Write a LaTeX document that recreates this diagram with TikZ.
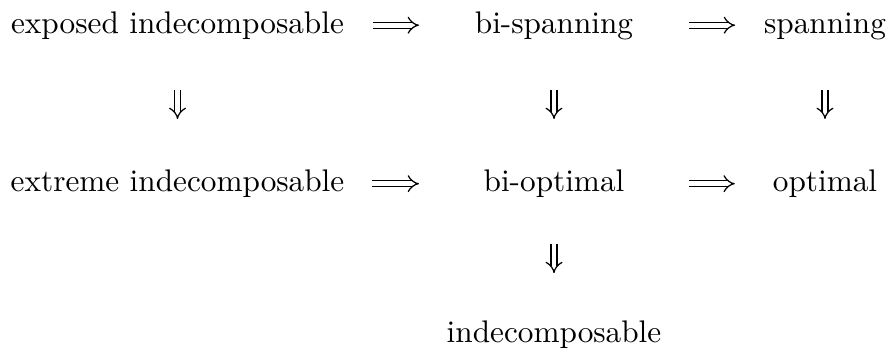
\documentclass[tikz,border=0pt]{standalone}
\usetikzlibrary{arrows.meta}
\begin{document}
\begin{tikzpicture}[x=0.32pt, y=-0.32pt,
  term/.style={inner sep=0pt, outer sep=0pt, anchor=base,
               text height=5pt, text depth=0pt},
  impl/.style={double, double distance=1.5pt, line width=0.4pt, -{Implies}}]
  \useasboundingbox (0,0) rectangle (889,348);

  % properties, row by row
  \node[term] (expo) at (177.5,33)  {exposed indecomposable};
  \node[term] (bisp) at (554,33)    {bi-spanning};
  \node[term] (span) at (825,33)    {spanning};
  \node[term] (extr) at (177.5,191.5) {extreme indecomposable};
  \node[term] (biop) at (554,191.5) {bi-optimal};
  \node[term] (opti) at (825,191.5) {optimal};
  \node[term] (inde) at (554,342.5) {indecomposable};

  % implications
  \draw[impl, shorten <=9.3pt,  shorten >=17.9pt] (expo) -- (bisp);
  \draw[impl, shorten <=17.9pt, shorten >=9.3pt]  (bisp) -- (span);
  \draw[impl, shorten <=9pt,    shorten >=20.7pt] (extr) -- (biop);
  \draw[impl, shorten <=20.7pt, shorten >=12.2pt] (biop) -- (opti);

  \draw[impl, shorten <=18.2pt, shorten >=18.2pt] (expo.south) -- (extr.north);
  \draw[impl, shorten <=18.2pt, shorten >=18.2pt] (bisp.south) -- (biop.north);
  \draw[impl, shorten <=18.2pt, shorten >=18.2pt] (span.south) -- (opti.north);
  \draw[impl, shorten <=16.8pt, shorten >=17.2pt] (biop.south) -- (inde.north);
\end{tikzpicture}
\end{document}
